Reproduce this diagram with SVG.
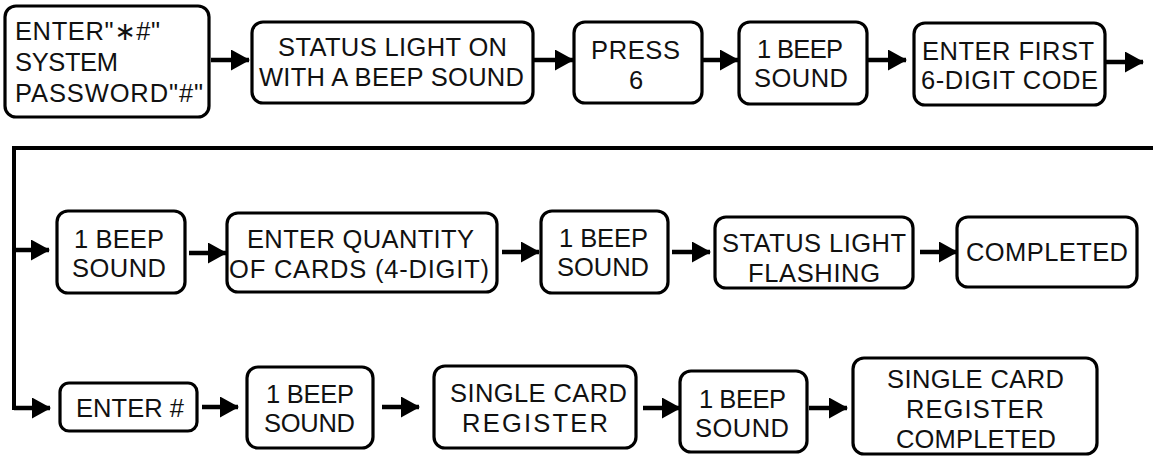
<svg xmlns="http://www.w3.org/2000/svg" width="1153" height="456" viewBox="0 0 1153 456">
<style>
.box{fill:#fff;stroke:#000;stroke-width:3.2}
.t{font-family:"Liberation Sans",Arial,"DejaVu Sans",sans-serif;font-size:25.5px;fill:#111}
.c{fill:none;stroke:#000;stroke-width:4.5}
.m{fill:none;stroke:#000;stroke-width:4}
</style>
<defs>
<marker id="ah" viewBox="0 0 19 21" refX="18" refY="10.5" markerWidth="19" markerHeight="21" markerUnits="userSpaceOnUse" orient="auto">
<path d="M0,0 L19,10.5 L0,21 z" fill="#000"/>
</marker>
</defs>
<rect width="1153" height="456" fill="#fff"/>
<g id="connectors">
<path class="m" d="M1153,148 H14 V408 H32"/>
<path class="c" d="M14,408 H50" marker-end="url(#ah)"/>
<path class="c" d="M14,250 H49" marker-end="url(#ah)"/>
<path class="c" d="M211,60 H249" marker-end="url(#ah)"/>
<path class="c" d="M533,60 H573" marker-end="url(#ah)"/>
<path class="c" d="M702,60 H738" marker-end="url(#ah)"/>
<path class="c" d="M867,60 H906" marker-end="url(#ah)"/>
<path class="c" d="M1105,62 H1143" marker-end="url(#ah)"/>
<path class="c" d="M189,253 H226" marker-end="url(#ah)"/>
<path class="c" d="M502,252 H539" marker-end="url(#ah)"/>
<path class="c" d="M672,252 H710" marker-end="url(#ah)"/>
<path class="c" d="M920,252 H957" marker-end="url(#ah)"/>
<path class="c" d="M202,407 H238" marker-end="url(#ah)"/>
<path class="c" d="M382,407 H419" marker-end="url(#ah)"/>
<path class="c" d="M643,408 H680" marker-end="url(#ah)"/>
<path class="c" d="M809,408 H847" marker-end="url(#ah)"/>
</g>
<g id="n1">
<rect class="box" x="5" y="6" width="204" height="111" rx="11"/>
<text class="t" x="15" y="40" textLength="145" lengthAdjust="spacing">ENTER"∗#"</text>
<text class="t" x="15" y="71" textLength="103" lengthAdjust="spacing">SYSTEM</text>
<text class="t" x="15" y="102" textLength="188" lengthAdjust="spacing">PASSWORD"#"</text>
</g>
<g id="n2">
<rect class="box" x="252" y="22" width="281" height="81" rx="11"/>
<text class="t" x="278" y="56" textLength="229" lengthAdjust="spacing">STATUS LIGHT ON</text>
<text class="t" x="259" y="86" textLength="265" lengthAdjust="spacing">WITH A BEEP SOUND</text>
</g>
<g id="n3">
<rect class="box" x="574" y="22" width="128" height="81" rx="11"/>
<text class="t" x="591" y="59" textLength="89" lengthAdjust="spacing">PRESS</text>
<text class="t" x="636" y="89" text-anchor="middle">6</text>
</g>
<g id="n4">
<rect class="box" x="739" y="22" width="128" height="82" rx="11"/>
<text class="t" x="757" y="58" textLength="86" lengthAdjust="spacing">1 BEEP</text>
<text class="t" x="754" y="87" textLength="94" lengthAdjust="spacing">SOUND</text>
</g>
<g id="n5">
<rect class="box" x="914" y="23" width="191" height="82" rx="11"/>
<text class="t" x="922" y="60" textLength="172" lengthAdjust="spacing">ENTER FIRST</text>
<text class="t" x="921" y="89" textLength="177" lengthAdjust="spacing">6-DIGIT CODE</text>
</g>
<g id="n6">
<rect class="box" x="57" y="211" width="128" height="82" rx="11"/>
<text class="t" x="74" y="248" textLength="90" lengthAdjust="spacing">1 BEEP</text>
<text class="t" x="72" y="277" textLength="94" lengthAdjust="spacing">SOUND</text>
</g>
<g id="n7">
<rect class="box" x="227" y="213" width="270" height="79" rx="11"/>
<text class="t" x="247" y="248" textLength="227" lengthAdjust="spacing">ENTER QUANTITY</text>
<text class="t" x="229" y="278" textLength="260" lengthAdjust="spacing">OF CARDS (4-DIGIT)</text>
</g>
<g id="n8">
<rect class="box" x="541" y="211" width="127" height="82" rx="11"/>
<text class="t" x="559" y="247" textLength="89" lengthAdjust="spacing">1 BEEP</text>
<text class="t" x="557" y="276" textLength="92" lengthAdjust="spacing">SOUND</text>
</g>
<g id="n9">
<rect class="box" x="715" y="217" width="198" height="71" rx="11"/>
<text class="t" x="722" y="252" textLength="184" lengthAdjust="spacing">STATUS LIGHT</text>
<text class="t" x="748" y="282" textLength="132" lengthAdjust="spacing">FLASHING</text>
</g>
<g id="n10">
<rect class="box" x="957" y="217" width="180" height="70" rx="11"/>
<text class="t" x="966" y="261" textLength="162" lengthAdjust="spacing">COMPLETED</text>
</g>
<g id="n11">
<rect class="box" x="60" y="383" width="137" height="48" rx="9"/>
<text class="t" x="76" y="417" textLength="108" lengthAdjust="spacing">ENTER #</text>
</g>
<g id="n12">
<rect class="box" x="247" y="367" width="126" height="81" rx="11"/>
<text class="t" x="266" y="403" textLength="88" lengthAdjust="spacing">1 BEEP</text>
<text class="t" x="264" y="432" textLength="91" lengthAdjust="spacing">SOUND</text>
</g>
<g id="n13">
<rect class="box" x="434" y="366" width="202" height="82" rx="11"/>
<text class="t" x="450" y="402" textLength="177" lengthAdjust="spacing">SINGLE CARD</text>
<text class="t" x="462" y="432" textLength="146" lengthAdjust="spacing">REGISTER</text>
</g>
<g id="n14">
<rect class="box" x="680" y="371" width="127" height="81" rx="11"/>
<text class="t" x="699" y="408" textLength="87" lengthAdjust="spacing">1 BEEP</text>
<text class="t" x="695" y="437" textLength="94" lengthAdjust="spacing">SOUND</text>
</g>
<g id="n15">
<rect class="box" x="853" y="358" width="244" height="96" rx="11"/>
<text class="t" x="887" y="388" textLength="177" lengthAdjust="spacing">SINGLE CARD</text>
<text class="t" x="906" y="418" textLength="138" lengthAdjust="spacing">REGISTER</text>
<text class="t" x="896" y="448" textLength="160" lengthAdjust="spacing">COMPLETED</text>
</g>
</svg>
